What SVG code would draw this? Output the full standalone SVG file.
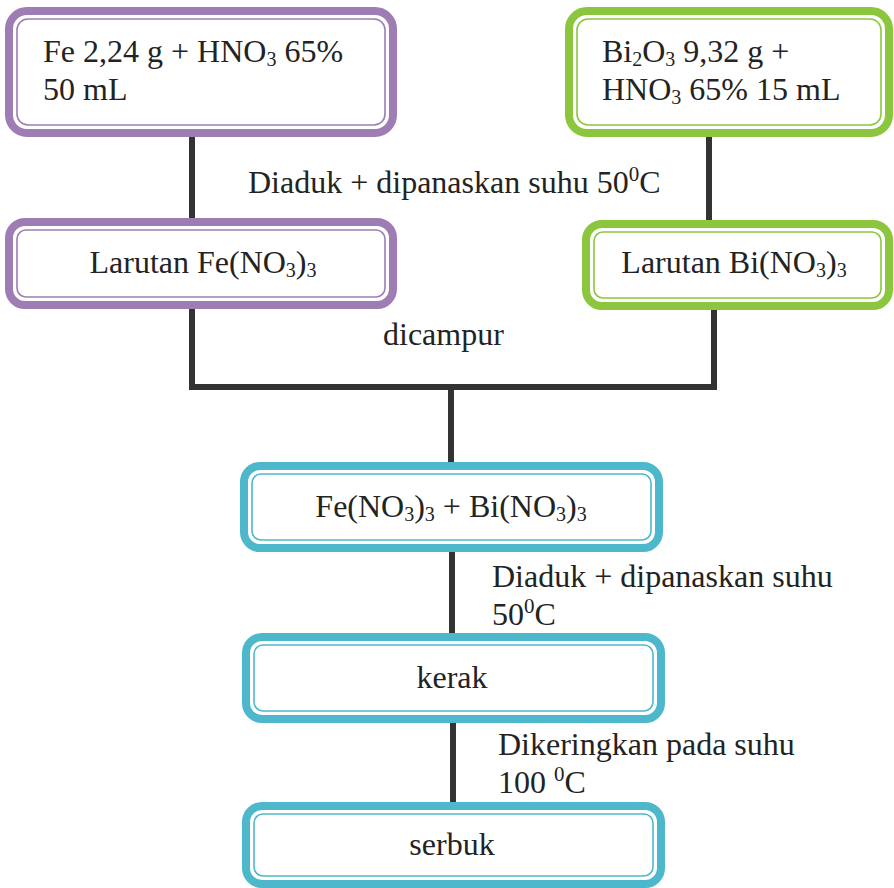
<svg xmlns="http://www.w3.org/2000/svg" width="894" height="888" viewBox="0 0 894 888">
<style>
text{font-family:"Liberation Serif","Times New Roman",serif;font-size:32px;fill:#232323}
.c{text-anchor:middle}
.sub{font-size:20px}
.sup{font-size:21px}
.outer{fill:#fff;stroke-width:8}
.inner{fill:none;stroke-width:1.6}
.p{stroke:#9d7db3}
.g{stroke:#8cc63e}
.b{stroke:#4db8cc}
.ln{stroke:#333;stroke-width:6;fill:none;stroke-linecap:square}
</style>
<rect width="894" height="888" fill="#fff"/>
<g id="connectors">
<line class="ln" x1="192" y1="137" x2="192" y2="218"/>
<line class="ln" x1="709" y1="137" x2="709" y2="220"/>
<polyline class="ln" points="192,309 192,387 714,387 714,310"/>
<line class="ln" x1="451" y1="387" x2="451" y2="462"/>
<line class="ln" x1="452" y1="552" x2="452" y2="633"/>
<line class="ln" x1="453" y1="723" x2="453" y2="802"/>
<text x="248" y="193">Diaduk + dipanaskan suhu 50<tspan class="sup" dy="-12">0</tspan><tspan dy="12">C</tspan></text>
<text x="383" y="345">dicampur</text>
<text x="492" y="587">Diaduk + dipanaskan suhu</text>
<text x="492" y="625">50<tspan class="sup" dy="-12">0</tspan><tspan dy="12">C</tspan></text>
<text x="498" y="755">Dikeringkan pada suhu</text>
<text x="498" y="793">100 <tspan class="sup" dy="-12">0</tspan><tspan dy="12">C</tspan></text>
</g>
<g id="fe-hno3">
<rect class="outer p" x="9" y="11" width="384" height="122" rx="18"/>
<rect class="inner p" x="17" y="19" width="368" height="106" rx="11"/>
<text x="43" y="62">Fe 2,24 g + HNO<tspan class="sub" dy="4">3</tspan><tspan dy="-4"> 65%</tspan></text>
<text x="43" y="100">50 mL</text>
</g>
<g id="larutan-fe">
<rect class="outer p" x="9" y="222" width="384" height="83" rx="16"/>
<rect class="inner p" x="17" y="230" width="368" height="67" rx="9"/>
<text class="c" x="203" y="273">Larutan Fe(NO<tspan class="sub" dy="4">3</tspan><tspan dy="-4">)</tspan><tspan class="sub" dy="4">3</tspan></text>
</g>
<g id="bi2o3-hno3">
<rect class="outer g" x="569" y="11" width="320" height="122" rx="18"/>
<rect class="inner g" x="577" y="19" width="304" height="106" rx="11"/>
<text x="602" y="62">Bi<tspan class="sub" dy="4">2</tspan><tspan dy="-4">O</tspan><tspan class="sub" dy="4">3</tspan><tspan dy="-4"> 9,32 g +</tspan></text>
<text x="602" y="100">HNO<tspan class="sub" dy="4">3</tspan><tspan dy="-4"> 65% 15 mL</tspan></text>
</g>
<g id="larutan-bi">
<rect class="outer g" x="586" y="224" width="303" height="82" rx="16"/>
<rect class="inner g" x="594" y="232" width="287" height="66" rx="9"/>
<text class="c" x="734" y="273">Larutan Bi(NO<tspan class="sub" dy="4">3</tspan><tspan dy="-4">)</tspan><tspan class="sub" dy="4">3</tspan></text>
</g>
<g id="campuran">
<rect class="outer b" x="244" y="466" width="415" height="82" rx="16"/>
<rect class="inner b" x="252" y="474" width="399" height="66" rx="9"/>
<text class="c" x="451" y="517">Fe(NO<tspan class="sub" dy="4">3</tspan><tspan dy="-4">)</tspan><tspan class="sub" dy="4">3</tspan><tspan dy="-4"> + Bi(NO</tspan><tspan class="sub" dy="4">3</tspan><tspan dy="-4">)</tspan><tspan class="sub" dy="4">3</tspan></text>
</g>
<g id="kerak">
<rect class="outer b" x="246" y="637" width="415" height="82" rx="16"/>
<rect class="inner b" x="254" y="645" width="399" height="66" rx="9"/>
<text class="c" x="452" y="688">kerak</text>
</g>
<g id="serbuk">
<rect class="outer b" x="246" y="806" width="415" height="78" rx="16"/>
<rect class="inner b" x="254" y="814" width="399" height="62" rx="9"/>
<text class="c" x="452" y="855">serbuk</text>
</g>
</svg>
